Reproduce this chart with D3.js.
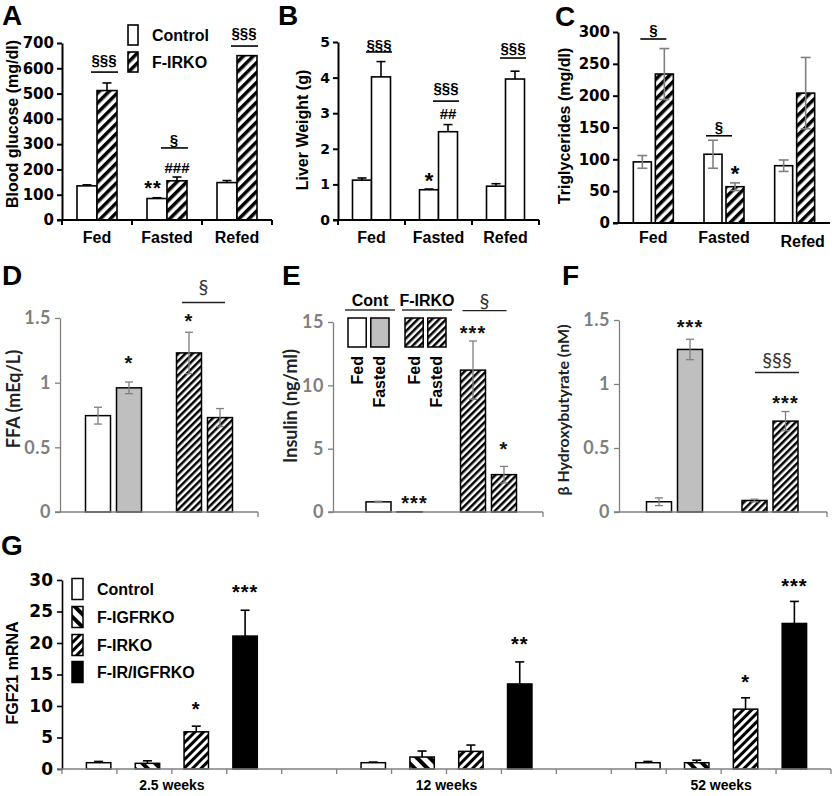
<!DOCTYPE html>
<html><head><meta charset="utf-8">
<script src="https://cdn.jsdelivr.net/npm/d3@7"></script>
<style>body{margin:0;background:#fff}svg{display:block}</style>
</head><body><script>
// ---------------- DATA ----------------
const stateGroups = ["Fed", "Fasted", "Refed"];
const pairSeries = ["Control", "F-IRKO"];
// A: blood glucose (mg/dl)
const glucoseControl = [135, 85, 148];
const glucoseControlErr = [4, 3, 8];
const glucoseFIRKO = [512, 155, 650];
const glucoseFIRKOErr = [30, 15, 0];
const glucoseTicks = [0, 100, 200, 300, 400, 500, 600, 700];
// B: liver weight (g)
const liverControl = [1.12, 0.85, 0.95];
const liverControlErr = [0.06, 0.02, 0.07];
const liverFIRKO = [4.02, 2.48, 3.96];
const liverFIRKOErr = [0.43, 0.2, 0.22];
const liverTicks = [0, 1, 2, 3, 4, 5];
// C: triglycerides (mg/dl)
const tgControl = [96, 108, 90];
const tgControlErr = [10, 22, 9];
const tgFIRKO = [234, 57, 204];
const tgFIRKOErr = [40, 6, 56];
const tgTicks = [0, 50, 100, 150, 200, 250, 300];
// D-F: conditions
const genoDEF = ["Cont", "F-IRKO"];
const stateDEF = ["Fed", "Fasted"];
const ffaValues = [0.745, 0.96, 1.23, 0.73];
const ffaErr = [0.065, 0.045, 0.16, 0.07];
const ffaTicks = [0, 0.5, 1, 1.5];
const insulinValues = [0.8, 0.02, 11.2, 2.95];
const insulinErr = [0.05, 0, 2.3, 0.65];
const insulinTicks = [0, 5, 10, 15];
const bhbValues = [0.08, 1.27, 0.09, 0.71];
const bhbErr = [0.03, 0.08, 0.01, 0.075];
const bhbTicks = [0, 0.5, 1, 1.5];
// G: FGF21 mRNA
const ages = ["2.5 weeks", "12 weeks", "52 weeks"];
const genotypesG = ["Control", "F-IGFRKO", "F-IRKO", "F-IR/IGFRKO"];
const fgfControl = [1.0, 1.0, 1.0];
const fgfControlErr = [0.2, 0.1, 0.2];
const fgfIGFRKO = [0.9, 1.9, 1.0];
const fgfIGFRKOErr = [0.4, 0.95, 0.4];
const fgfIRKO = [5.9, 2.8, 9.5];
const fgfIRKOErr = [0.9, 1.0, 1.8];
const fgfDKO = [21.1, 13.5, 23.1];
const fgfDKOErr = [4.1, 3.5, 3.5];
const fgfTicks = [0, 5, 10, 15, 20, 25, 30];

// ---------------- SETUP ----------------
const W = 832, H = 796;
const ARIAL = "'Liberation Sans', Arial, sans-serif";
const DIG = "'DejaVu Sans', sans-serif";
const CAL = "Lato, 'Open Sans', sans-serif";
const svg = d3.select("body").append("svg").attr("width", W).attr("height", H)
  .style("font-family", ARIAL);
svg.append("rect").attr("width", W).attr("height", H).attr("fill", "#fff");
const defs = svg.append("defs");
function stripes(id, size, black, angle) {
  const p = defs.append("pattern").attr("id", id).attr("patternUnits", "userSpaceOnUse")
    .attr("width", size).attr("height", size).attr("patternTransform", `rotate(${angle})`);
  p.append("rect").attr("width", size).attr("height", size).attr("fill", "#fff");
  p.append("rect").attr("width", black).attr("height", size).attr("fill", "#000");
}
stripes("hA", 7, 3.5, 45);
stripes("hD", 5, 2.5, 45);
stripes("hG", 6, 3, 45);
stripes("hG2", 9, 4, -45);

function txt(g, x, yc, s, o = {}) {
  const fs = o.fs || 14;
  const shift = o.star ? 0.58 : 0.36;
  return g.append("text").attr("x", x).attr("y", yc + shift * fs)
    .attr("text-anchor", o.anchor || "middle").attr("font-size", fs)
    .attr("font-weight", o.weight || "bold").attr("fill", o.fill || "#000")
    .attr("font-family", o.family || ARIAL).attr("letter-spacing", o.ls || null).text(s);
}
function letter(s, x, y) {
  svg.append("text").attr("x", x).attr("y", y).attr("font-size", 28).attr("font-weight", "bold")
    .attr("font-family", ARIAL).text(s);
}
function vlabel(g, s, x, y, fs, family, fill) {
  g.append("text").attr("transform", `translate(${x},${y}) rotate(-90)`).attr("text-anchor", "middle")
    .attr("font-size", fs).attr("font-weight", "bold").attr("font-family", family || ARIAL)
    .attr("fill", fill || "#000").text(s);
}
function errBar(g, x, yTop, yEnd, yLow, color, w, cap) {
  g.append("line").attr("x1", x).attr("x2", x).attr("y1", yLow).attr("y2", yEnd)
    .attr("stroke", color).attr("stroke-width", w);
  g.append("line").attr("x1", x - cap / 2).attr("x2", x + cap / 2).attr("y1", yEnd).attr("y2", yEnd)
    .attr("stroke", color).attr("stroke-width", w);
  if (yLow !== yTop) {
    g.append("line").attr("x1", x - cap / 2).attr("x2", x + cap / 2).attr("y1", yLow).attr("y2", yLow)
      .attr("stroke", color).attr("stroke-width", w);
  }
}

// ---------------- PANELS A-C ----------------
function pairPanel(c) {
  const g = svg.append("g");
  const y = d3.scaleLinear().domain([0, c.max]).range([c.y0, c.y1]);
  const xo = d3.scaleBand().domain(stateGroups).range([c.x0, c.x1]);
  const bw = xo.bandwidth();
  const R = 2 * c.barW + c.gap;
  const xi = d3.scaleBand().domain(pairSeries).range([bw / 2 - R / 2, bw / 2 + R / 2])
    .paddingInner(c.gap / (c.barW + c.gap));
  const data = [];
  stateGroups.forEach((s, i) => {
    data.push({ s, k: "Control", v: c.ctrl[i], e: c.ctrlE[i], fill: "#fff" });
    data.push({ s, k: "F-IRKO", v: c.ko[i], e: c.koE[i], fill: c.koFill });
  });
  g.selectAll("rect.bar").data(data).join("rect").attr("class", "bar")
    .attr("x", d => xo(d.s) + xi(d.k)).attr("width", xi.bandwidth())
    .attr("y", d => y(d.v)).attr("height", d => y(0) - y(d.v))
    .attr("fill", d => d.fill).attr("stroke", "#000").attr("stroke-width", 1.6);
  data.forEach(d => {
    if (!d.e) return;
    const cx = xo(d.s) + xi(d.k) + xi.bandwidth() / 2;
    errBar(g, cx, y(d.v), y(d.v + d.e), c.both ? y(d.v - d.e) : y(d.v), c.errColor, c.errW, c.cap);
  });
  const ya = g.append("g").attr("transform", `translate(${c.x0},0)`)
    .call(d3.axisLeft(y).tickValues(c.ticks).tickSize(5).tickSizeOuter(0).tickPadding(3)
      .tickFormat(d3.format("d")));
  ya.select(".domain").attr("stroke", "#000").attr("stroke-width", 2);
  ya.selectAll(".tick line").attr("stroke", "#000").attr("stroke-width", 2);
  ya.selectAll(".tick text").attr("font-family", DIG).attr("font-weight", "bold")
    .attr("font-size", c.tickFs).attr("fill", "#000");
  g.append("line").attr("x1", c.x0 - 5).attr("x2", c.x1).attr("y1", c.y0).attr("y2", c.y0)
    .attr("stroke", "#000").attr("stroke-width", 2);
  if (c.xTicks) {
    stateGroups.map(s => xo(s)).concat([c.x1]).forEach(t => {
      g.append("line").attr("x1", t).attr("x2", t).attr("y1", c.y0).attr("y2", c.y0 + 5)
        .attr("stroke", "#000").attr("stroke-width", 2);
    });
  }
  stateGroups.forEach((s, i) => {
    const dy = (c.labelDy && c.labelDy[i]) || 0;
    const dx = (c.labelDx && c.labelDx[i]) || 0;
    txt(g, xo(s) + bw / 2 + dx, c.labelY + dy, s, { fs: 16 });
  });
  vlabel(g, c.yLabel, c.yLabelX, c.yLabelY, 16);
  return { g, y, xo, xi, bw };
}

// Panel A
const pA = pairPanel({
  x0: 62, x1: 272, y0: 220, y1: 43, max: 700, ticks: glucoseTicks, barW: 20, gap: 0,
  ctrl: glucoseControl, ctrlE: glucoseControlErr, ko: glucoseFIRKO, koE: glucoseFIRKOErr, koFill: "url(#hA)",
  both: false, errColor: "#000", errW: 1.6, cap: 9, tickFs: 15, xTicks: true, labelY: 237,
  yLabel: "Blood glucose (mg/dl)", yLabelX: 18, yLabelY: 124
});
letter("A", 2, 25);
{
  const { g, y, xo, xi } = pA;
  const koC = s => xo(s) + xi("F-IRKO") + xi.bandwidth() / 2;
  const ctC = s => xo(s) + xi("Control") + xi.bandwidth() / 2;
  const sigA = [{ s: "Fed", t: "§§§", ty: 633, ly: 585 }, { s: "Fasted", t: "§", ty: 316, ly: 285 },
                { s: "Refed", t: "§§§", ty: 740, ly: 688 }];
  sigA.forEach(a => {
    txt(g, koC(a.s) - 3, y(a.ty), a.t, { fs: 15 });
    g.append("line").attr("x1", koC(a.s) - 16).attr("x2", koC(a.s) + 11).attr("y1", y(a.ly)).attr("y2", y(a.ly))
      .attr("stroke", "#000").attr("stroke-width", 1.6);
  });
  txt(g, koC("Fasted"), y(206), "###", { fs: 15 });
  txt(g, ctC("Fasted") - 4, y(146), "**", { fs: 20, star: true, ls: 1 });
  const lg = g.append("g");
  [{ k: "Control", f: "#fff", yc: 35 }, { k: "F-IRKO", f: "url(#hA)", yc: 62 }].forEach(l => {
    lg.append("rect").attr("x", 128).attr("y", l.yc - 10).attr("width", 10).attr("height", 20)
      .attr("fill", l.f).attr("stroke", "#000").attr("stroke-width", 1.6);
    txt(lg, 152, l.yc, l.k, { fs: 16, anchor: "start" });
  });
}

// Panel B
const pB = pairPanel({
  x0: 338, x1: 539, y0: 220, y1: 42, max: 5, ticks: liverTicks, barW: 19, gap: 0,
  ctrl: liverControl, ctrlE: liverControlErr, ko: liverFIRKO, koE: liverFIRKOErr, koFill: "#fff",
  both: false, errColor: "#000", errW: 1.6, cap: 9, tickFs: 14, xTicks: true, labelY: 237,
  yLabel: "Liver Weight (g)", yLabelX: 308, yLabelY: 130
});
letter("B", 278, 25);
{
  const { g, y, xo, xi } = pB;
  const koC = s => xo(s) + xi("F-IRKO") + xi.bandwidth() / 2;
  const ctC = s => xo(s) + xi("Control") + xi.bandwidth() / 2;
  const sigB = [{ s: "Fed", ty: 4.94, ly: 4.72 }, { s: "Fasted", ty: 3.71, ly: 3.34 }, { s: "Refed", ty: 4.83, ly: 4.55 }];
  sigB.forEach(a => {
    txt(g, koC(a.s) - 2, y(a.ty), "§§§", { fs: 15 });
    g.append("line").attr("x1", koC(a.s) - 15).attr("x2", koC(a.s) + 11).attr("y1", y(a.ly)).attr("y2", y(a.ly))
      .attr("stroke", "#000").attr("stroke-width", 1.6);
  });
  txt(g, koC("Fasted"), y(3.0), "##", { fs: 15 });
  txt(g, ctC("Fasted"), y(1.26), "*", { fs: 22, star: true });
}

// Panel C
const pC = pairPanel({
  x0: 618, x1: 830, y0: 223, y1: 32, max: 300, ticks: tgTicks, barW: 18, gap: 4,
  ctrl: tgControl, ctrlE: tgControlErr, ko: tgFIRKO, koE: tgFIRKOErr, koFill: "url(#hA)",
  both: true, errColor: "#808080", errW: 1.6, cap: 10, tickFs: 15, xTicks: false, labelY: 237,
  labelDy: [0, 0, 4], labelDx: [0, 0, 8],
  yLabel: "Triglycerides (mg/dl)", yLabelX: 570, yLabelY: 126
});
letter("C", 555, 26);
{
  const { g, y, xo, xi, bw } = pC;
  const koC = s => xo(s) + xi("F-IRKO") + xi.bandwidth() / 2;
  const sigC = [{ s: "Fed", ty: 303, ly: 289, dx: 0 }, { s: "Fasted", ty: 151, ly: 137, dx: -5 }];
  sigC.forEach(a => {
    const cx = xo(a.s) + bw / 2 + a.dx;
    txt(g, cx, y(a.ty), "§", { fs: 15 });
    g.append("line").attr("x1", cx - 13).attr("x2", cx + 13).attr("y1", y(a.ly)).attr("y2", y(a.ly))
      .attr("stroke", "#000").attr("stroke-width", 1.6);
  });
  txt(g, koC("Fasted"), y(86), "*", { fs: 22, star: true });
}

// ---------------- PANELS D-F ----------------
function quadPanel(c) {
  const g = svg.append("g");
  const y = d3.scaleLinear().domain([0, c.max]).range([512, c.y1]);
  const xg = d3.scalePoint().domain(genoDEF).range([c.c1, c.c2]);
  const xi = d3.scaleBand().domain(stateDEF).range([-28, 28]).paddingInner(6 / 31);
  const fills = { "Cont|Fed": "#fff", "Cont|Fasted": "#bfbfbf", "F-IRKO|Fed": "url(#hD)", "F-IRKO|Fasted": "url(#hD)" };
  const data = [];
  genoDEF.forEach((gn, i) => stateDEF.forEach((st, j) => {
    const k = i * 2 + j;
    data.push({ gn, st, v: c.vals[k], e: c.errs[k], fill: fills[gn + "|" + st] });
  }));
  g.selectAll("rect.bar").data(data).join("rect").attr("class", "bar")
    .attr("x", d => xg(d.gn) + xi(d.st)).attr("width", xi.bandwidth())
    .attr("y", d => y(d.v)).attr("height", d => y(0) - y(d.v))
    .attr("fill", d => d.fill).attr("stroke", "#000").attr("stroke-width", 1.5);
  data.forEach(d => {
    if (!d.e) return;
    const cx = xg(d.gn) + xi(d.st) + xi.bandwidth() / 2;
    errBar(g, cx, y(d.v), y(d.v + d.e), y(d.v - d.e), "#7f7f7f", 1.3, 8);
  });
  const ya = g.append("g").attr("transform", `translate(${c.x0},0)`)
    .call(d3.axisLeft(y).tickValues(c.ticks).tickSize(5).tickSizeOuter(0).tickPadding(4)
      .tickFormat(d => String(d)));
  ya.select(".domain").attr("stroke", "#808080").attr("stroke-width", 1.3);
  ya.selectAll(".tick line").attr("stroke", "#808080").attr("stroke-width", 1.3);
  ya.selectAll(".tick text").attr("font-family", CAL).attr("font-weight", "bold")
    .attr("font-size", 18).attr("fill", "#7f7f7f").attr("letter-spacing", 0.5);
  g.append("line").attr("x1", c.x0 - 5).attr("x2", c.x1).attr("y1", 512).attr("y2", 512)
    .attr("stroke", "#808080").attr("stroke-width", 1.3);
  g.append("line").attr("x1", c.x1).attr("x2", c.x1).attr("y1", 512).attr("y2", 517)
    .attr("stroke", "#808080").attr("stroke-width", 1.3);
  vlabel(g, c.yLabel, c.yLabelX, c.yLabelY, c.yLabelFs || 18, CAL, "#222");
  const barC = k => { const d = data[k]; return xg(d.gn) + xi(d.st) + xi.bandwidth() / 2; };
  (c.stars || []).forEach(s => txt(g, barC(s.k) + (s.dx || 0), y(s.y), s.t, { fs: 20, star: true, ls: 1, fill: "#111" }));
  if (c.sig) {
    const cx = xg(c.sig.gn) + c.sig.dx;
    txt(g, cx, y(c.sig.ty), c.sig.t, { fs: 20, weight: "normal", family: CAL, fill: "#333" });
    g.append("line").attr("x1", cx - c.sig.w / 2).attr("x2", cx + c.sig.w / 2)
      .attr("y1", y(c.sig.ly)).attr("y2", y(c.sig.ly)).attr("stroke", "#222").attr("stroke-width", 1.3);
  }
  return { g, y, xg, xi };
}

// Panel D
quadPanel({
  x0: 60, x1: 258, y1: 318, max: 1.5, ticks: ffaTicks, c1: 113.5, c2: 204.5,
  vals: ffaValues, errs: ffaErr, yLabel: "FFA (mEq/L)", yLabelX: 20, yLabelY: 399,
  stars: [{ k: 1, t: "*", y: 1.19 }, { k: 2, t: "*", y: 1.51 }],
  sig: { gn: "F-IRKO", dx: -1, ty: 1.74, ly: 1.62, w: 43, t: "§" }
});
letter("D", 2, 285);

// Panel E
const pE = quadPanel({
  x0: 333, x1: 543, y1: 322, max: 15, ticks: insulinTicks, c1: 394, c2: 488.5,
  vals: insulinValues, errs: insulinErr, yLabel: "Insulin (ng/ml)", yLabelX: 297, yLabelY: 406,
  stars: [{ k: 1, t: "***", y: 1.1, dx: 5 }, { k: 2, t: "***", y: 14.5 }, { k: 3, t: "*", y: 5.3 }],
  sig: { gn: "F-IRKO", dx: -4, ty: 16.7, ly: 15.9, w: 44, t: "§" }
});
letter("E", 282, 285);
{
  const g = pE.g;
  const lx = d3.scalePoint().domain(genoDEF).range([348, 405]);
  const li = d3.scaleBand().domain(stateDEF).range([0, 41]).paddingInner(4.5 / 22.5);
  const lfills = { "Cont|Fed": "#fff", "Cont|Fasted": "#bfbfbf", "F-IRKO|Fed": "url(#hD)", "F-IRKO|Fasted": "url(#hD)" };
  genoDEF.forEach(gn => {
    const cx = lx(gn) + 21;
    txt(g, cx + 1, 300, gn, { fs: 16 });
    g.append("line").attr("x1", cx - 24).attr("x2", cx + 26).attr("y1", 310).attr("y2", 310)
      .attr("stroke", "#333").attr("stroke-width", 1.3);
    stateDEF.forEach(st => {
      g.append("rect").attr("x", lx(gn) + li(st)).attr("y", 318).attr("width", li.bandwidth()).attr("height", 29)
        .attr("fill", lfills[gn + "|" + st]).attr("stroke", "#000").attr("stroke-width", 1.5);
      const bx = lx(gn) + li(st) + li.bandwidth() / 2 + 5.5;
      g.append("text").attr("transform", `translate(${bx},356) rotate(-90)`).attr("text-anchor", "end")
        .attr("font-size", 16).attr("font-weight", "bold").attr("font-family", ARIAL).text(st);
    });
  });
}

// Panel F
quadPanel({
  x0: 619, x1: 827, y1: 320, max: 1.5, ticks: bhbTicks, c1: 674.5, c2: 770,
  vals: bhbValues, errs: bhbErr, yLabel: "β Hydroxybutyrate (nM)", yLabelX: 569, yLabelY: 410, yLabelFs: 16,
  stars: [{ k: 1, t: "***", y: 1.48 }, { k: 3, t: "***", y: 0.89 }],
  sig: { gn: "F-IRKO", dx: 7, ty: 1.19, ly: 1.09, w: 44, t: "§§§" }
});
letter("F", 562, 285);

// ---------------- PANEL G ----------------
{
  const g = svg.append("g");
  const x0 = 62, x1 = 831, y0 = 769;
  const slot = (x1 - x0) / 14;
  const y = d3.scaleLinear().domain([0, 30]).range([y0, 580]);
  const xa = d3.scaleBand().domain(ages).range([x0, x0 + 15 * slot]);
  const xi = d3.scaleBand().domain(genotypesG).range([0, 4 * slot]).padding(0.5);
  const series = [fgfControl, fgfIGFRKO, fgfIRKO, fgfDKO];
  const seriesErr = [fgfControlErr, fgfIGFRKOErr, fgfIRKOErr, fgfDKOErr];
  const fills = ["#fff", "url(#hG2)", "url(#hG)", "#000"];
  const data = [];
  ages.forEach((a, i) => genotypesG.forEach((gt, j) =>
    data.push({ a, gt, v: series[j][i], e: seriesErr[j][i], fill: fills[j] })));
  g.selectAll("rect.bar").data(data).join("rect").attr("class", "bar")
    .attr("x", d => xa(d.a) + xi(d.gt)).attr("width", xi.bandwidth())
    .attr("y", d => y(d.v)).attr("height", d => y(0) - y(d.v))
    .attr("fill", d => d.fill).attr("stroke", "#000").attr("stroke-width", 1.5);
  data.forEach(d => {
    const cx = xa(d.a) + xi(d.gt) + xi.bandwidth() / 2;
    errBar(g, cx, y(d.v), y(d.v + d.e), y(d.v), "#000", 1.6, 9);
  });
  const ya = g.append("g").attr("transform", `translate(${x0},0)`)
    .call(d3.axisLeft(y).tickValues(fgfTicks).tickSize(5).tickSizeOuter(0).tickPadding(4));
  ya.select(".domain").attr("stroke", "#000").attr("stroke-width", 1.6);
  ya.selectAll(".tick line").attr("stroke", "#000").attr("stroke-width", 1.6);
  ya.selectAll(".tick text").attr("font-family", DIG).attr("font-weight", "bold")
    .attr("font-size", 17).attr("fill", "#000");
  g.append("line").attr("x1", x0 - 5).attr("x2", x1).attr("y1", y0).attr("y2", y0)
    .attr("stroke", "#808080").attr("stroke-width", 1.5);
  d3.range(15).forEach(i => {
    g.append("line").attr("x1", x0 + i * slot).attr("x2", x0 + i * slot).attr("y1", y0).attr("y2", y0 + 5)
      .attr("stroke", "#808080").attr("stroke-width", 1.3);
  });
  ages.forEach(a => txt(g, xa(a) + 2 * slot, 785, a, { fs: 14 }));
  vlabel(g, "FGF21 mRNA", 18, 673, 16);
  const starsG = [{ a: 0, gt: 2, t: "*", y: 10.2 }, { a: 0, gt: 3, t: "***", y: 28.9 }, { a: 1, gt: 3, t: "**", y: 20.6 },
                  { a: 2, gt: 2, t: "*", y: 14.6 }, { a: 2, gt: 3, t: "***", y: 29.8 }];
  starsG.forEach(s => txt(g, xa(ages[s.a]) + xi(genotypesG[s.gt]) + xi.bandwidth() / 2, y(s.y), s.t,
    { fs: 20, star: true, ls: 1 }));
  const legY = [589, 617, 645, 672];
  genotypesG.forEach((gt, j) => {
    g.append("rect").attr("x", 72).attr("y", legY[j] - 10.5).attr("width", 11).attr("height", 21)
      .attr("fill", fills[j]).attr("stroke", "#000").attr("stroke-width", 1.5);
    txt(g, 97, legY[j], gt, { fs: 16, anchor: "start" });
  });
}
letter("G", 1, 555);
</script></body></html>
